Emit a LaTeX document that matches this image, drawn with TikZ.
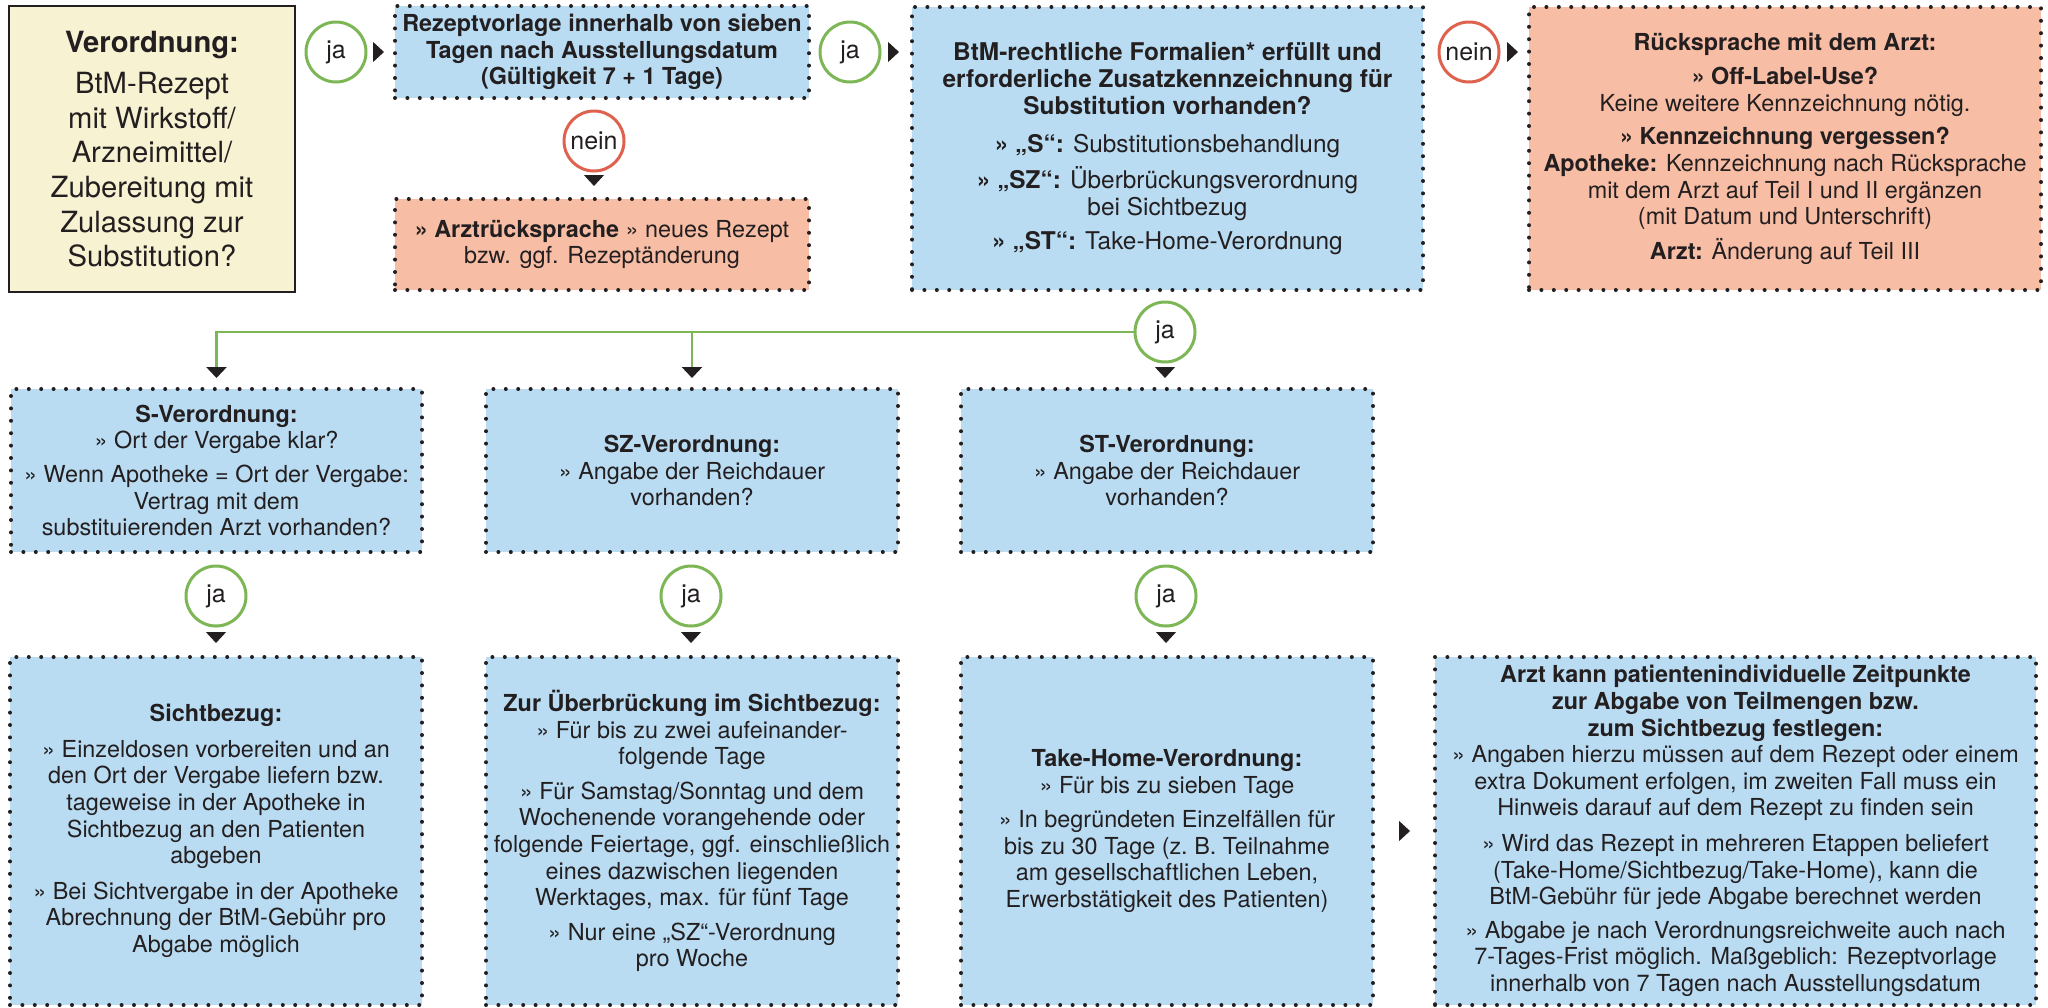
\documentclass[tikz,border=0pt]{standalone}
\usepackage{fontspec}
\setmainfont{TeX Gyre Heros}
\usepackage{xcolor}
\usepackage{tikz}
\usetikzlibrary{arrows.meta}

\definecolor{ink}{HTML}{231F20}
\definecolor{boxblue}{HTML}{B9DCF3}
\definecolor{boxrose}{HTML}{F8BDA5}
\definecolor{boxcream}{HTML}{F7F2D2}
\definecolor{jagreen}{HTML}{7DB655}
\definecolor{neinred}{HTML}{DE624E}

\begin{document}
\begin{tikzpicture}[x=0.5pt, y=-0.5pt,
    every node/.style={text=ink, font=\fontsize{11.7}{13.3}\selectfont},
    dotbox/.style={rectangle, draw=ink, line width=2pt, line cap=round, dash pattern=on 0pt off 6.2pt, inner sep=0pt, align=center, fill=boxblue},
    ja/.style={circle, draw=jagreen, line width=1.5pt, fill=white, minimum size=30pt, inner sep=0pt, font=\fontsize{12.5}{13}\selectfont},
    nein/.style={ja, draw=neinred},
    tip/.style={draw=white, shorten <=2pt, -{Triangle[length=5.5pt, width=10pt, color=ink, fill=ink]}},
    branch/.style={draw=jagreen, line width=1.4pt, shorten >=4.5pt, -{Triangle[length=5.5pt, width=10pt, color=ink, fill=ink]}}]
    \useasboundingbox (0,0) rectangle (2048,1007);

    \node (verord) [draw=ink, line width=1.4pt, fill=boxcream, minimum width=143pt, minimum height=143pt, inner sep=0pt, align=center, font=\fontsize{14.6}{17.3}\selectfont] at (152,149) {\textbf{Verordnung:}\\[3.5pt] BtM-Rezept\\ mit Wirkstoff/\\ Arzneimittel/\\ Zubereitung mit\\ Zulassung zur\\ Substitution?};
    \node (rezept) [dotbox, minimum width=207pt, minimum height=46pt] at (602,52) {\textbf{Rezeptvorlage innerhalb von sieben}\\ \textbf{Tagen nach Ausstellungsdatum}\\ \textbf{(Gültigkeit 7 + 1 Tage)}};
    \node (arztr) [dotbox, fill=boxrose, minimum width=207pt, minimum height=45.5pt] at (602,244.5) {\textbf{» Arztrücksprache} » neues Rezept\\ bzw. ggf. Rezeptänderung};
    \node (formal) [dotbox, minimum width=255.5pt, minimum height=141.5pt, font=\fontsize{12.2}{13.4}\selectfont] at (1167.5,148.5) {\textbf{BtM-rechtliche Formalien* erfüllt und}\\ \textbf{erforderliche Zusatzkennzeichnung für}\\ \textbf{Substitution vorhanden?}\\[5.5pt] \textbf{» „S“:} Substitutionsbehandlung\\[3.5pt] \textbf{» „SZ“:} Überbrückungsverordnung\\ bei Sichtbezug\\[3.5pt] \textbf{» „ST“:} Take-Home-Verordnung};
    \node (rueck) [dotbox, fill=boxrose, minimum width=256pt, minimum height=141.5pt] at (1785,148.5) {\textbf{Rücksprache mit dem Arzt:}\\[4pt] \textbf{» Off-Label-Use?}\\ Keine weitere Kennzeichnung nötig.\\[3.5pt] \textbf{» Kennzeichnung vergessen?}\\ \textbf{Apotheke:} Kennzeichnung nach Rücksprache\\ mit dem Arzt auf Teil I und II ergänzen\\ (mit Datum und Unterschrift)\\[4pt] \textbf{Arzt:} Änderung auf Teil III};

    \node (sver) [dotbox, minimum width=205.5pt, minimum height=81.5pt] at (216.5,470.5) {\textbf{S-Verordnung:}\\ » Ort der Vergabe klar?\\[3.5pt] » Wenn Apotheke = Ort der Vergabe:\\ Vertrag mit dem\\ substituierenden Arzt vorhanden?};
    \node (szver) [dotbox, minimum width=206pt, minimum height=81.5pt] at (692,470.5) {\textbf{SZ-Verordnung:}\\ » Angabe der Reichdauer\\ vorhanden?};
    \node (stver) [dotbox, minimum width=206pt, minimum height=81.5pt] at (1167,470.5) {\textbf{ST-Verordnung:}\\ » Angabe der Reichdauer\\ vorhanden?};

    \node (sicht) [dotbox, minimum width=206pt, minimum height=174pt] at (216,831) {\textbf{Sichtbezug:}\\[4.5pt] » Einzeldosen vorbereiten und an\\ den Ort der Vergabe liefern bzw.\\ tageweise in der Apotheke in\\ Sichtbezug an den Patienten\\ abgeben\\[4.5pt] » Bei Sichtvergabe in der Apotheke\\ Abrechnung der BtM-Gebühr pro\\ Abgabe möglich};
    \node (ueber) [dotbox, minimum width=206pt, minimum height=174pt] at (692,831) {\textbf{Zur Überbrückung im Sichtbezug:}\\ » Für bis zu zwei aufeinander-\\ folgende Tage\\[4pt] » Für Samstag/Sonntag und dem\\ Wochenende vorangehende oder\\ folgende Feiertage, ggf. einschließlich\\ eines dazwischen liegenden\\ Werktages, max. für fünf Tage\\[4pt] » Nur eine „SZ“-Verordnung\\ pro Woche};
    \node (takehome) [dotbox, minimum width=206pt, minimum height=174pt] at (1167,831) {\textbf{Take-Home-Verordnung:}\\ » Für bis zu sieben Tage\\[4pt] » In begründeten Einzelfällen für\\ bis zu 30 Tage (z.~B. Teilnahme\\ am gesellschaftlichen Leben,\\ Erwerbstätigkeit des Patienten)};
    \node (zeit) [dotbox, minimum width=300.5pt, minimum height=174pt] at (1735.5,831) {\textbf{Arzt kann patientenindividuelle Zeitpunkte}\\ \textbf{zur Abgabe von Teilmengen bzw.}\\ \textbf{zum Sichtbezug festlegen:}\\ » Angaben hierzu müssen auf dem Rezept oder einem\\ extra Dokument erfolgen, im zweiten Fall muss ein\\ Hinweis darauf auf dem Rezept zu finden sein\\[4.5pt] » Wird das Rezept in mehreren Etappen beliefert\\ (Take-Home/Sichtbezug/Take-Home), kann die\\ BtM-Gebühr für jede Abgabe berechnet werden\\[3.5pt] » Abgabe je nach Verordnungsreichweite auch nach\\ 7-Tages-Frist möglich. Maßgeblich: Rezeptvorlage\\ innerhalb von 7 Tagen nach Ausstellungsdatum};

    \node (ja1) [ja] at (336,52) {ja};
    \node (ja2) [ja] at (850,52) {ja};
    \node (nein1) [nein] at (1469,52) {nein};
    \node (nein2) [nein] at (594,141) {nein};
    \node (jaT) [ja] at (1165,332) {ja};
    \node (jaS) [ja] at (216,596) {ja};
    \node (jaSZ) [ja] at (691,596) {ja};
    \node (jaST) [ja] at (1166,596) {ja};

    \draw[tip, shorten >=4.5pt] (ja1) -- (ja1 -| rezept.west);
    \draw[tip, shorten >=5.5pt] (ja2) -- (ja2 -| formal.west);
    \draw[tip, shorten >=4.5pt] (nein1) -- (nein1 -| rueck.west);
    \draw[tip, shorten >=5.5pt] (nein2) -- (nein2 |- arztr.north);
    \draw[branch] (jaT.west) -| (sver.north);
    \draw[branch] (jaT.west -| szver.north) -- (szver.north);
    \draw[tip, shorten >=4.5pt] (jaT) -- (jaT |- stver.north);
    \draw[tip, shorten >=6pt] (jaS) -- (jaS |- sicht.north);
    \draw[tip, shorten >=6pt] (jaSZ) -- (jaSZ |- ueber.north);
    \draw[tip, shorten >=6pt] (jaST) -- (jaST |- takehome.north);
    \draw[tip, shorten >=11.5pt] (takehome) -- (takehome -| zeit.west);
\end{tikzpicture}
\end{document}
